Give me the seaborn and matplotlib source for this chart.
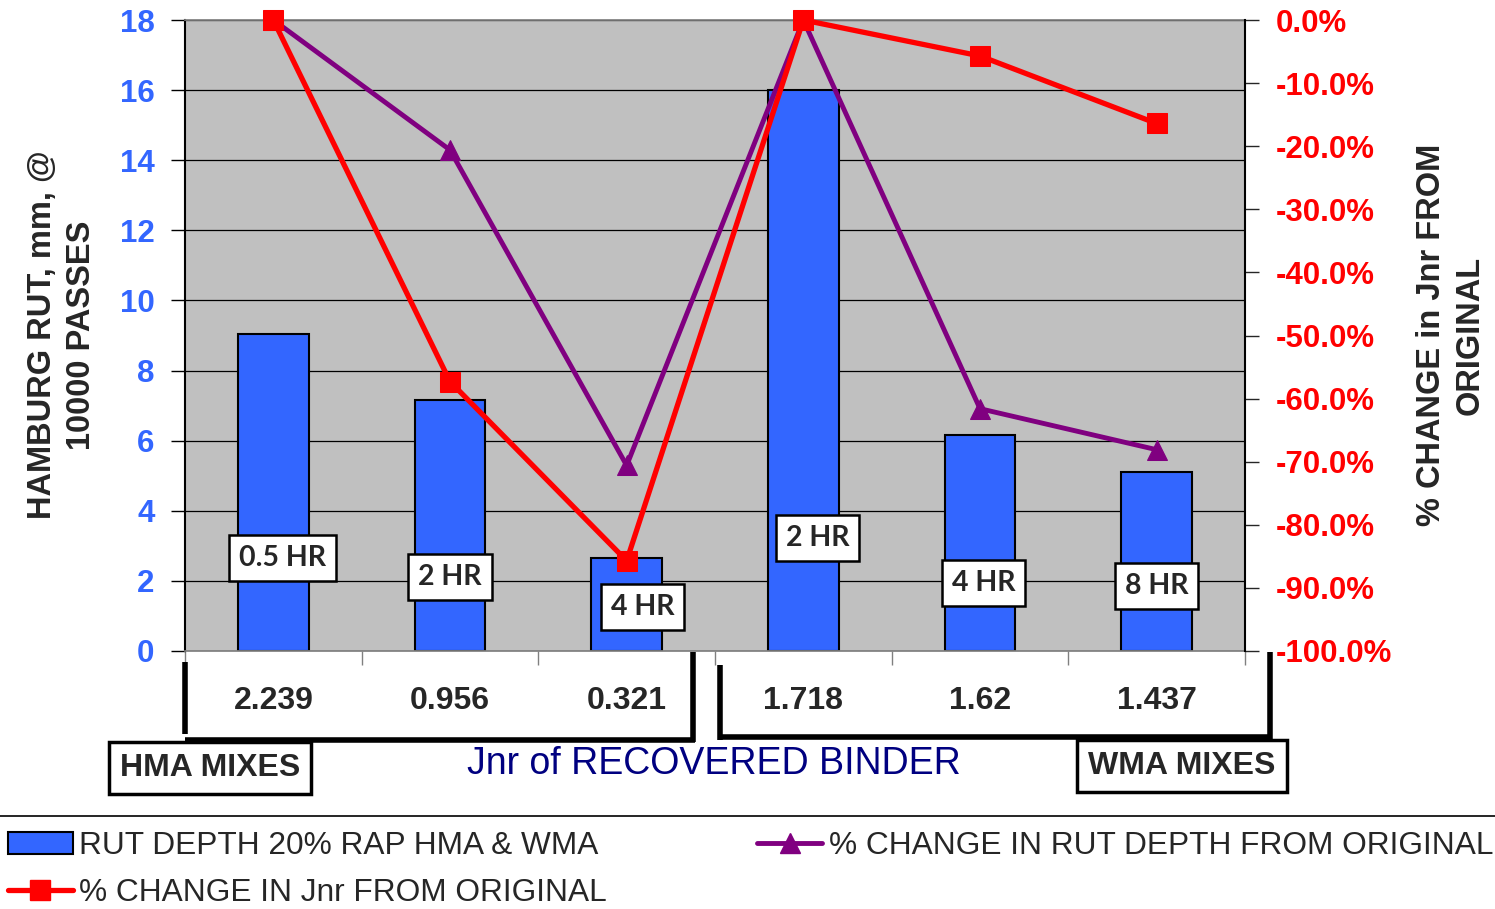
import numpy as np
import pandas as pd
import matplotlib.pyplot as plt
import seaborn as sns
from matplotlib.lines import Line2D
from matplotlib.patches import Patch

# datos
jnr_labels = ['2.239', '0.956', '0.321', '1.718', '1.62', '1.437']
rut_depth = [9.05, 7.15, 2.65, 16.0, 6.15, 5.1]
rut_change = [0.0, -20.6, -70.6, 0.0, -61.6, -68.1]
jnr_change = [0.0, -57.3, -85.7, 0.0, -5.7, -16.4]
hr_labels = ['0.5 HR', '2 HR', '4 HR', '2 HR', '4 HR', '8 HR']
hr_ypos = [2.65, 2.11, 1.25, 3.22, 1.94, 1.85]
hr_xoff = [0.05, 0.0, 0.09, 0.08, 0.02, 0.0]

pos = np.arange(len(jnr_labels))
df = pd.DataFrame({'pos': pos, 'rut': rut_depth, 'rut_chg': rut_change, 'jnr_chg': jnr_change})

sns.set_theme(style='white')
plt.rcParams['font.family'] = ['Liberation Sans', 'DejaVu Sans']

W, H = 1495, 909
fig = plt.figure(figsize=(W / 100, H / 100), dpi=100)

def px(x, y):
    return (x / W, 1 - y / H)

x0, y0 = px(185, 651)
x1, y1 = px(1245, 20)
ax = fig.add_axes([x0, y0, x1 - x0, y1 - y0])
ax.set_facecolor('#C0C0C0')

sns.barplot(data=df, x='pos', y='rut', native_scale=True, width=0.4,
            color='#3366FF', saturation=1, edgecolor='black', linewidth=1.5, ax=ax)
ax.set_xlim(-0.5, 5.5)
ax.set_ylim(0, 18)
ax.set_yticks(range(0, 19, 2))
ax.yaxis.grid(True, color='black', linewidth=0.9)
ax.set_axisbelow(True)
ax.tick_params(axis='y', which='major', direction='out', length=10, width=1,
               colors='black', left=True, pad=12)
for t in ax.get_yticklabels():
    t.set_color('#3366FF')
    t.set_fontweight('bold')
    t.set_fontsize(22.5)
ax.set_ylabel('')
ax.set_xlabel('')

# ticks en los limites de categoria, etiquetas en el centro
ax.set_xticks(np.arange(-0.5, 6.0, 1.0))
ax.set_xticklabels([''] * 7)
ax.tick_params(axis='x', which='major', direction='out', length=10, width=1,
               color='#808080', bottom=True)
ax.set_xticks(pos, minor=True)
ax.set_xticklabels(jnr_labels, minor=True, fontsize=23, fontweight='bold')
ax.tick_params(axis='x', which='minor', length=0, pad=25)

ax.spines['left'].set_color('black')
ax.spines['left'].set_linewidth(1.5)
ax.spines['bottom'].set_color('#808080')
ax.spines['top'].set_color('#808080')
ax.spines['right'].set_visible(False)

for x, y, lab, dx in zip(pos, hr_ypos, hr_labels, hr_xoff):
    ax.text(x + dx, y, lab, ha='center', va='center', fontsize=20.5, fontweight='bold',
            family=['Lato', 'DejaVu Sans'],
            bbox=dict(boxstyle='square,pad=0.35', fc='white', ec='black', lw=1.8))

# eje derecho con los cambios porcentuales
ax2 = ax.twinx()
sns.lineplot(data=df, x='pos', y='rut_chg', ax=ax2, color='#800080', linewidth=3.5,
             marker='^', markersize=15, markeredgecolor='#800080', clip_on=False)
sns.lineplot(data=df, x='pos', y='jnr_chg', ax=ax2, color='#FF0000', linewidth=3.8,
             marker='s', markersize=14, markeredgecolor='#FF0000', clip_on=False)
ax2.set_ylim(-100, 0)
ax2.set_xlim(-0.5, 5.5)
ticks2 = np.arange(-100, 1, 10)
ax2.set_yticks(ticks2)
ax2.set_yticklabels([f'{v:.1f}%' for v in ticks2], color='#FF0000',
                    fontsize=22.5, fontweight='bold')
ax2.tick_params(axis='y', direction='out', length=10, width=1, right=True, pad=12)
ax2.set_ylabel('')
ax2.spines['right'].set_color('black')
ax2.spines['right'].set_linewidth(1.5)
for s in ['left', 'top', 'bottom']:
    ax2.spines[s].set_visible(False)
ax2.grid(False)

# titulos de ejes
fig.text(*px(62, 335), 'HAMBURG RUT, mm, @\n10000 PASSES', rotation=90, ha='center',
         va='center', fontsize=23.5, fontweight='bold', linespacing=1.3)
fig.text(*px(1451, 335), '% CHANGE in Jnr FROM\nORIGINAL', rotation=90, ha='center',
         va='center', fontsize=23.5, fontweight='bold', linespacing=1.3)
fig.text(*px(714, 764), 'Jnr of RECOVERED BINDER', ha='center', va='center',
         fontsize=27, color='#000080')

# corchetes de HMA / WMA
def fline(xs, ys, lw=4):
    pts = [px(a, b) for a, b in zip(xs, ys)]
    fig.add_artist(Line2D([p[0] for p in pts], [p[1] for p in pts], color='black',
                          lw=lw, transform=fig.transFigure, solid_capstyle='butt'))

fline([185, 185], [662, 734])
fline([185, 695], [740, 740])
fline([693, 693], [652, 742])
fline([720, 720], [665, 740])
fline([718, 1272], [737, 737])
fline([1270, 1270], [652, 739])

fig.text(*px(210, 768), 'HMA MIXES', ha='center', va='center', fontsize=23,
         fontweight='bold',
         bbox=dict(boxstyle='square,pad=0.35', fc='white', ec='black', lw=2.5))
fig.text(*px(1182, 766), 'WMA MIXES', ha='center', va='center', fontsize=23,
         fontweight='bold',
         bbox=dict(boxstyle='square,pad=0.35', fc='white', ec='black', lw=2.5))

# separador y leyenda
fig.add_artist(Line2D([0, 1], [px(0, 816)[1]] * 2, color='black', lw=1.2,
                      transform=fig.transFigure))
handles = [
    Patch(facecolor='#3366FF', edgecolor='black', linewidth=1.5),
    Line2D([], [], color='#FF0000', lw=3.8, marker='s', markersize=14),
    Line2D([], [], color='#800080', lw=3.5, marker='^', markersize=15),
]
labels = ['RUT DEPTH 20% RAP HMA & WMA', '% CHANGE IN Jnr FROM ORIGINAL',
          '% CHANGE IN RUT DEPTH FROM ORIGINAL']
fig.legend(handles, labels, loc='upper left', bbox_to_anchor=px(8, 831), ncol=2,
           frameon=False, fontsize=22.8, handlelength=2.05, handletextpad=0.2,
           columnspacing=4.75, labelspacing=0.55, borderpad=0, borderaxespad=0)

fig.savefig('out.png', dpi=100)
